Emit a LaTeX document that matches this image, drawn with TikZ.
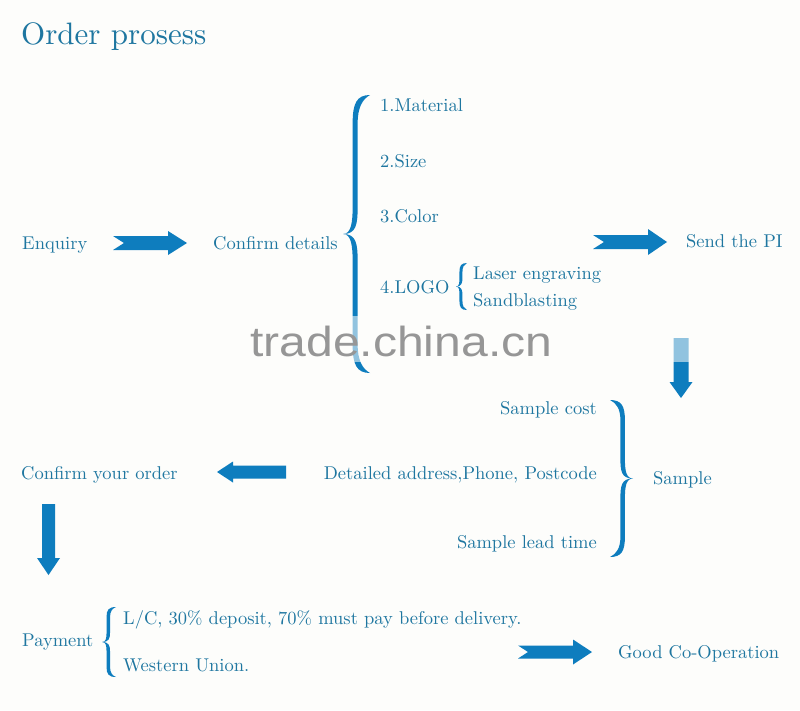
\documentclass[tikz,border=0pt]{standalone}
\usepackage{fontspec}
\setmainfont{lmroman10-regular.otf}
\newfontfamily\wmfont{Liberation Sans}
\definecolor{txtblue}{RGB}{30,118,160}
\definecolor{shapeblue}{RGB}{14,125,190}
\definecolor{bgcol}{RGB}{253,253,251}
\definecolor{wmgray}{RGB}{150,150,150}
\tikzset{
  lbl/.style={font=\fontsize{18.5}{20}\selectfont, text=txtblue, inner sep=0pt, anchor=base west},
  lblr/.style={lbl, anchor=base east},
  pics/barrow/.style n args={5}{code={
    \fill[shapeblue] (0,-#2) -- ({#1-#4},-#2) -- ({#1-#4},-#3) -- (#1,0) -- ({#1-#4},#3) -- ({#1-#4},#2) -- (0,#2) -- (#5,0) -- cycle;
  }},
  pics/cbrace/.style n args={4}{code={
    \fill[shapeblue]
      (0,0) .. controls ({0.3*#2},0) and ({0.45*#2-#3/2},{-0.4*#4}) .. ({0.45*#2-#3/2},{-#4})
      -- ({0.45*#2-#3/2},{-#1+#4})
      .. controls ({0.45*#2-#3/2},{-#1+0.3*#4}) and ({0.6*#2-#3/2},{-#1}) .. (#2,{-#1})
      .. controls ({0.72*#2},{-#1+0.15*#4}) and ({0.45*#2+#3/2},{-#1+0.45*#4}) .. ({0.45*#2+#3/2},{-#1+#4})
      -- ({0.45*#2+#3/2},{-#4})
      .. controls ({0.45*#2+#3/2},{-0.35*#4}) and ({0.5*#2},0) .. (0,0)
      .. controls ({0.5*#2},0) and ({0.45*#2+#3/2},{0.35*#4}) .. ({0.45*#2+#3/2},{#4})
      -- ({0.45*#2+#3/2},{#1-#4})
      .. controls ({0.45*#2+#3/2},{#1-0.45*#4}) and ({0.72*#2},{#1-0.15*#4}) .. (#2,{#1})
      .. controls ({0.6*#2-#3/2},{#1}) and ({0.45*#2-#3/2},{#1-0.3*#4}) .. ({0.45*#2-#3/2},{#1-#4})
      -- ({0.45*#2-#3/2},{#4})
      .. controls ({0.45*#2-#3/2},{0.4*#4}) and ({0.3*#2},0) .. (0,0) -- cycle;
  }}
}
\begin{document}
\begin{tikzpicture}[x=1pt,y=-1pt]
\fill[bgcol] (0,0) rectangle (800,710);
\useasboundingbox (0,0) rectangle (800,710);

% title
\node[lbl, font=\fontsize{31}{34}\selectfont] (title) at (21,44) {Order prosess};

% row 1
\node[lbl] (enq) at (22,249) {Enquiry};
\node[lbl] (conf) at (213,249) {Confirm details};
\node[lbl] (mat) at (380,111) {1.Material};
\node[lbl] (size) at (380,167) {2.Size};
\node[lbl] (col) at (380,222) {3.Color};
\node[lbl] (logo) at (380,293) {4.LOGO};
\node[lbl] (laser) at (473,279) {Laser engraving};
\node[lbl] (sand) at (473,306) {Sandblasting};
\node[lbl] (pi) at (686,247) {Send the PI};

% sample
\node[lblr] (scost) at (597,414) {Sample cost};
\node[lblr] (addr) at (597,479) {Detailed address,Phone, Postcode};
\node[lblr] (slead) at (597,548) {Sample lead time};
\node[lbl] (sample) at (653,484) {Sample};
\node[lbl] (corder) at (21,479) {Confirm your order};

% payment
\node[lbl] (pay) at (22,646) {Payment};
\node[lbl] (lc) at (123,624) {L/C, 30\% deposit, 70\% must pay before delivery.};
\node[lbl] (wu) at (123,671) {Western Union.};
\node[lbl] (good) at (618,658) {Good Co-Operation};

% braces
\pic at (343,234) {cbrace={139}{27}{5}{28}};
\pic at (456,286.5) {cbrace={23.5}{11}{3}{9}};
\pic[xscale=-1] at (633,478.5) {cbrace={78.5}{23}{4.5}{20}};
\pic at (102,642) {cbrace={35}{14}{3.5}{10}};

% arrows
\pic at (113,243) {barrow={74}{7}{12}{19}{11}};
\pic at (593,242) {barrow={74}{7}{13}{19}{11}};
\pic[rotate=-90] at (681,338) {barrow={60}{7.5}{11.5}{16}{0}};
\pic[rotate=180] at (286,472) {barrow={69}{6.5}{10.5}{16}{0}};
\pic[rotate=-90] at (48.5,504) {barrow={71}{6.5}{11.5}{17}{0}};
\pic at (518,652) {barrow={74}{6.5}{12.5}{19}{10}};

% watermark
\fill[bgcol, opacity=0.55] (240,316) rectangle (700,362);
\node[inner sep=0pt, anchor=base west, text=wmgray, font=\wmfont\fontsize{42}{44}\selectfont] (wm) at (250,356) {\scalebox{1.145}[1]{trade.china.cn}};
\end{tikzpicture}
\end{document}
